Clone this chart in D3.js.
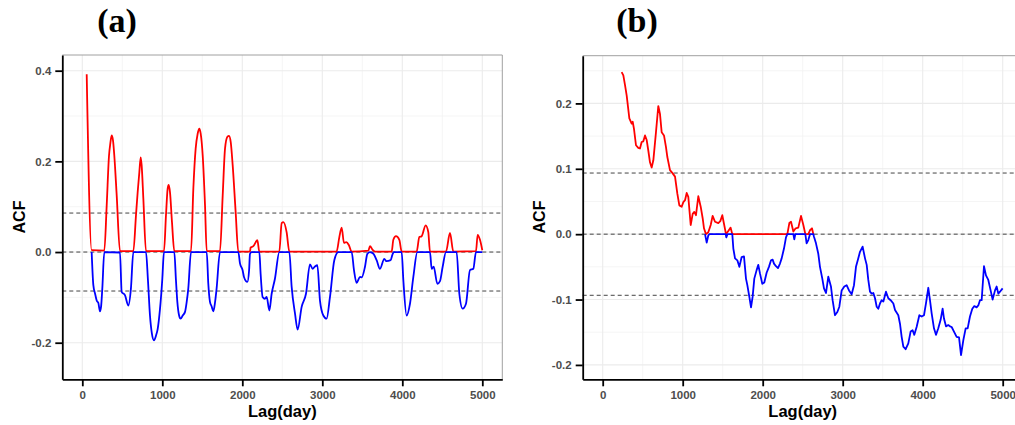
<!DOCTYPE html>
<html>
<head>
<meta charset="utf-8">
<script src="https://cdn.jsdelivr.net/npm/d3@7"></script>
<style>
  body { margin: 0; background: #fff; }
  svg { display: block; }
</style>
</head>
<body>
<svg id="canvas" width="1015" height="425"></svg>
<script>
// panel (a): ACF split into positive (red) and negative (blue) parts, [lag, acf]
let acfA_pos = [[55,0.392],[117,0.004],[275,0.003],[305,0.103],[334,0.213],[350,0.239],[367,0.257],[384,0.246],[400,0.213],[430,0.125],[471,0.002],
  [638,0.002],[671,0.081],[692,0.132],[713,0.176],[730,0.209],[742,0.191],[763,0.118],[796,0.002],
  [1021,0.002],[1046,0.081],[1067,0.14],[1080,0.148],[1096,0.132],[1121,0.066],[1150,0.002],
  [1359,0.002],[1388,0.14],[1417,0.228],[1442,0.261],[1463,0.272],[1480,0.261],[1505,0.213],[1534,0.103],[1555,0.002],
  [1721,0.002],[1755,0.125],[1784,0.228],[1813,0.254],[1834,0.256],[1855,0.243],[1880,0.191],[1917,0.088],[1950,0.001],
  [2096,0.001],[2104,0.01],[2138,0.013],[2188,0.026],[2213,0.001],[2463,0.001],[2492,0.064],[2513,0.066],[2554,0.044],[2588,0.001],
  [3179,0.001],[3213,0.033],[3242,0.054],[3271,0.02],[3300,0.022],[3333,0.015],[3367,0.001],[3575,0.003],[3596,0.013],[3629,0.005],[3658,0.001],
  [3867,0.001],[3888,0.027],[3921,0.035],[3963,0.027],[3992,0.001],[4179,0.001],[4213,0.033],[4242,0.035],[4292,0.059],[4325,0.044],[4346,0.001],
  [4546,0.001],[4596,0.042],[4638,0.001],[4921,0.002],[4942,0.038],[4971,0.027],[5000,0.004]];

let acfA_neg = [[117,0],[138,-0.073],[160,-0.092],[180,-0.107],[200,-0.112],[221,-0.131],[235,-0.12],[250,-0.081],[275,0],
  [471,-0.001],[492,-0.088],[533,-0.095],[575,-0.118],[608,-0.08],[638,0],
  [796,0],[820,-0.06],[846,-0.14],[870,-0.18],[896,-0.195],[920,-0.185],[942,-0.17],[971,-0.126],[1000,-0.06],[1021,0],
  [1150,0],[1170,-0.06],[1188,-0.11],[1210,-0.14],[1229,-0.147],[1255,-0.14],[1284,-0.132],[1305,-0.11],[1325,-0.08],[1359,0],
  [1555,0],[1575,-0.07],[1596,-0.11],[1617,-0.12],[1638,-0.131],[1660,-0.11],[1679,-0.08],[1721,0],
  [1950,0],[1971,-0.025],[2004,-0.04],[2021,-0.055],[2063,-0.066],[2085,-0.04],[2096,-0.004],[2117,0],
  [2213,0],[2229,-0.048],[2254,-0.099],[2283,-0.103],[2305,-0.099],[2338,-0.129],[2367,-0.092],[2408,-0.059],[2463,0],
  [2588,0],[2617,-0.077],[2659,-0.136],[2692,-0.171],[2742,-0.121],[2796,-0.092],[2846,-0.027],[2879,-0.037],[2908,-0.032],[2938,-0.029],
  [2971,-0.107],[3013,-0.14],[3054,-0.147],[3096,-0.099],[3150,-0.018],[3200,0],
  [3367,0],[3396,-0.04],[3429,-0.068],[3471,-0.055],[3492,-0.056],[3533,-0.033],[3563,-0.004],[3596,0],[3640,-0.004],[3679,-0.018],
  [3721,-0.037],[3775,-0.015],[3800,-0.02],[3854,-0.018],[3880,-0.004],[3896,0],
  [3992,0],[4013,-0.062],[4054,-0.14],[4096,-0.114],[4138,-0.055],[4188,0],
  [4346,0],[4367,-0.037],[4392,-0.032],[4438,-0.07],[4471,-0.064],[4504,-0.033],[4546,0],
  [4679,0],[4713,-0.092],[4754,-0.125],[4796,-0.114],[4846,-0.04],[4888,-0.037],[4921,0],[5000,0]];

// panel (b)
let acfB_pos = [[237,0.248],[258,0.243],[279,0.228],[300,0.212],[333,0.177],[362,0.169],[375,0.172],[391,0.161],[416,0.136],[445,0.132],
  [466,0.131],[487,0.141],[508,0.142],[529,0.151],[550,0.144],[570,0.128],[591,0.11],[612,0.102],[633,0.113],[666,0.156],[695,0.196],
  [716,0.184],[737,0.156],[766,0.151],[791,0.133],[808,0.118],[841,0.098],[875,0.093],[904,0.088],[933,0.062],[958,0.044],[987,0.042],
  [1008,0.049],[1029,0.052],[1050,0.063],[1070,0.057],[1100,0.014],[1125,0.031],[1145,0.034],[1166,0.029],[1195,0.058],[1225,0.042],
  [1250,0.024],[1266,0.009],[1291,0],[1320,0.003],[1350,0.014],[1374,0.028],[1404,0.019],[1445,0.017],[1470,0.02],[1495,0.029],
  [1516,0.016],[1541,0],[1570,0.005],[1599,0.01],[1620,0],[2308,0],[2333,0.017],[2354,0.019],[2383,0.004],[2412,0.009],[2445,0.01],
  [2479,0.028],[2508,0.014],[2533,0],[2570,0],[2591,0.006],[2616,0.009],[2633,0]];

let acfB_neg = [[1279,0],[1300,-0.013],[1320,-0.002],[1335,0],[1537,0],[1545,-0.005],[1560,0],[1620,0],[1633,-0.022],[1654,-0.037],
  [1683,-0.04],[1708,-0.05],[1737,-0.035],[1766,-0.034],[1791,-0.068],[1808,-0.078],[1833,-0.096],[1854,-0.112],[1874,-0.096],
  [1895,-0.068],[1924,-0.055],[1945,-0.047],[1966,-0.06],[1995,-0.076],[2020,-0.074],[2049,-0.059],[2078,-0.05],[2104,-0.04],
  [2124,-0.039],[2141,-0.045],[2166,-0.049],[2191,-0.052],[2216,-0.045],[2237,-0.037],[2266,-0.022],[2291,-0.005],[2308,0],
  [2383,0],[2395,-0.008],[2408,0],[2533,0],[2549,-0.014],[2570,-0.009],[2591,0],[2633,0],[2641,-0.004],[2666,-0.014],[2695,-0.03],
  [2716,-0.05],[2745,-0.068],[2766,-0.083],[2791,-0.09],[2820,-0.065],[2853,-0.08],[2874,-0.101],[2903,-0.124],[2933,-0.119],
  [2958,-0.111],[2987,-0.086],[3020,-0.08],[3049,-0.078],[3079,-0.086],[3112,-0.092],[3141,-0.078],[3166,-0.05],[3195,-0.037],
  [3216,-0.027],[3249,-0.019],[3279,-0.037],[3300,-0.047],[3320,-0.07],[3341,-0.088],[3362,-0.091],[3383,-0.09],[3404,-0.098],
  [3425,-0.111],[3445,-0.114],[3466,-0.106],[3487,-0.101],[3508,-0.103],[3541,-0.088],[3570,-0.098],[3599,-0.101],[3633,-0.106],
  [3654,-0.116],[3695,-0.124],[3716,-0.137],[3737,-0.157],[3758,-0.172],[3787,-0.176],[3820,-0.167],[3849,-0.149],[3874,-0.147],
  [3895,-0.154],[3924,-0.142],[3958,-0.124],[3987,-0.126],[4016,-0.124],[4041,-0.106],[4070,-0.082],[4091,-0.101],[4112,-0.121],
  [4141,-0.144],[4166,-0.154],[4195,-0.144],[4224,-0.131],[4249,-0.114],[4266,-0.129],[4291,-0.141],[4320,-0.139],[4341,-0.141],
  [4362,-0.142],[4391,-0.149],[4424,-0.157],[4454,-0.158],[4479,-0.185],[4508,-0.162],[4537,-0.144],[4562,-0.144],[4591,-0.126],
  [4620,-0.114],[4645,-0.11],[4674,-0.112],[4695,-0.109],[4716,-0.101],[4737,-0.101],[4766,-0.049],[4791,-0.063],[4820,-0.07],
  [4849,-0.086],[4874,-0.1],[4904,-0.086],[4924,-0.08],[4945,-0.091],[4966,-0.088],[4999,-0.083]];

// axis ticks and confidence bounds
let xTicks = [0, 1000, 2000, 3000, 4000, 5000];
let xMinor = [500, 1500, 2500, 3500, 4500];
let yTicksA = [-0.2, 0.0, 0.2, 0.4];
let yMinorA = [-0.1, 0.1, 0.3];
let yTicksB = [-0.2, -0.1, 0.0, 0.1, 0.2];
let yMinorB = [-0.15, -0.05, 0.05, 0.15, 0.25];
let boundA = 0.086;
let boundB = 0.0935;

let canvas = d3.select("#canvas");

let drawPanel = (p) => {
    let x = d3.scaleLinear().domain([-250, 5250]).range([p.left, p.left + 440]);
    let y = d3.scaleLinear().domain(p.yDomain).range([379.3, p.top]);
    let g = canvas.append('g');

    // grid
    g.selectAll('.vminor').data(xMinor).enter().append('line')
        .attr('x1', d => x(d)).attr('x2', d => x(d)).attr('y1', p.top).attr('y2', 379.3)
        .attr('stroke', '#f2f2f2').attr('stroke-width', 0.8);
    g.selectAll('.hminor').data(p.yMinor).enter().append('line')
        .attr('x1', p.left).attr('x2', p.left + 440).attr('y1', d => y(d)).attr('y2', d => y(d))
        .attr('stroke', '#f2f2f2').attr('stroke-width', 0.8);
    g.selectAll('.vmajor').data(xTicks).enter().append('line')
        .attr('x1', d => x(d)).attr('x2', d => x(d)).attr('y1', p.top).attr('y2', 379.3)
        .attr('stroke', '#ebebeb').attr('stroke-width', 1.1);
    g.selectAll('.hmajor').data(p.yTicks).enter().append('line')
        .attr('x1', p.left).attr('x2', p.left + 440).attr('y1', d => y(d)).attr('y2', d => y(d))
        .attr('stroke', '#ebebeb').attr('stroke-width', 1.1);

    // panel border (top / right)
    g.append('path')
        .attr('d', `M${p.left},${p.top}H${p.left + 440}V379.3`)
        .attr('fill', 'none').attr('stroke', '#a0a0a0').attr('stroke-width', 1);

    // dashed reference lines
    g.selectAll('.ref').data([p.bound, 0, -p.bound]).enter().append('line')
        .attr('x1', p.left).attr('x2', p.left + 440).attr('y1', d => y(d)).attr('y2', d => y(d))
        .attr('stroke', '#444').attr('stroke-width', 1).attr('stroke-dasharray', '4,3');

    let line = d3.line().x(d => x(d[0])).y(d => y(d[1])).curve(p.curve);
    g.append('path').datum(p.pos).attr('d', line)
        .attr('fill', 'none').attr('stroke', '#ff0000').attr('stroke-width', 1.8).attr('stroke-linejoin', 'round');
    g.append('path').datum(p.neg).attr('d', line)
        .attr('fill', 'none').attr('stroke', '#0000ff').attr('stroke-width', 1.8).attr('stroke-linejoin', 'round');

    // axes
    let yAxis = d3.axisLeft(y).tickValues(p.yTicks).tickFormat(d => d.toFixed(1))
        .tickSize(7).tickPadding(4).tickSizeOuter(0);
    let xAxis = d3.axisBottom(x).tickValues(xTicks).tickFormat(d => d)
        .tickSize(7).tickPadding(5).tickSizeOuter(0);

    g.append('g').attr('transform', `translate(${p.left},0)`).call(yAxis);
    g.append('g').attr('transform', 'translate(0,379.3)').call(xAxis);
    g.selectAll('.domain, .tick line').attr('stroke', '#000').attr('stroke-width', 1.8);
    g.selectAll('.tick text')
        .attr('fill', '#4d4d4d')
        .style('font-family', '"Liberation Sans", Arial, sans-serif')
        .style('font-weight', 'bold')
        .style('font-size', '11.5px');

    // labels
    g.append('text')
        .attr('x', p.left + 220).attr('y', 417)
        .attr('text-anchor', 'middle')
        .style('font-family', '"Liberation Sans", Arial, sans-serif')
        .style('font-weight', 'bold').style('font-size', '16.5px')
        .text('Lag(day)');
    g.append('text')
        .attr('transform', `translate(${p.labelX},217) rotate(-90)`)
        .attr('text-anchor', 'middle')
        .style('font-family', '"Liberation Sans", Arial, sans-serif')
        .style('font-weight', 'bold').style('font-size', '16px')
        .text('ACF');
    g.append('text')
        .attr('x', p.titleX).attr('y', 32)
        .attr('text-anchor', 'middle')
        .style('font-family', '"Liberation Serif", "Times New Roman", serif')
        .style('font-weight', 'bold').style('font-size', '34px')
        .text(p.title);
}

drawPanel({left: 62.3, top: 55, yDomain: [-0.2807, 0.4346], yTicks: yTicksA, yMinor: yMinorA,
    bound: boundA, pos: acfA_pos, neg: acfA_neg, curve: d3.curveMonotoneX,
    labelX: 25, titleX: 117, title: '(a)'});
drawPanel({left: 582.7, top: 55.7, yDomain: [-0.222, 0.273], yTicks: yTicksB, yMinor: yMinorB,
    bound: boundB, pos: acfB_pos, neg: acfB_neg, curve: d3.curveLinear,
    labelX: 545, titleX: 637, title: '(b)'});
</script>
</body>
</html>
